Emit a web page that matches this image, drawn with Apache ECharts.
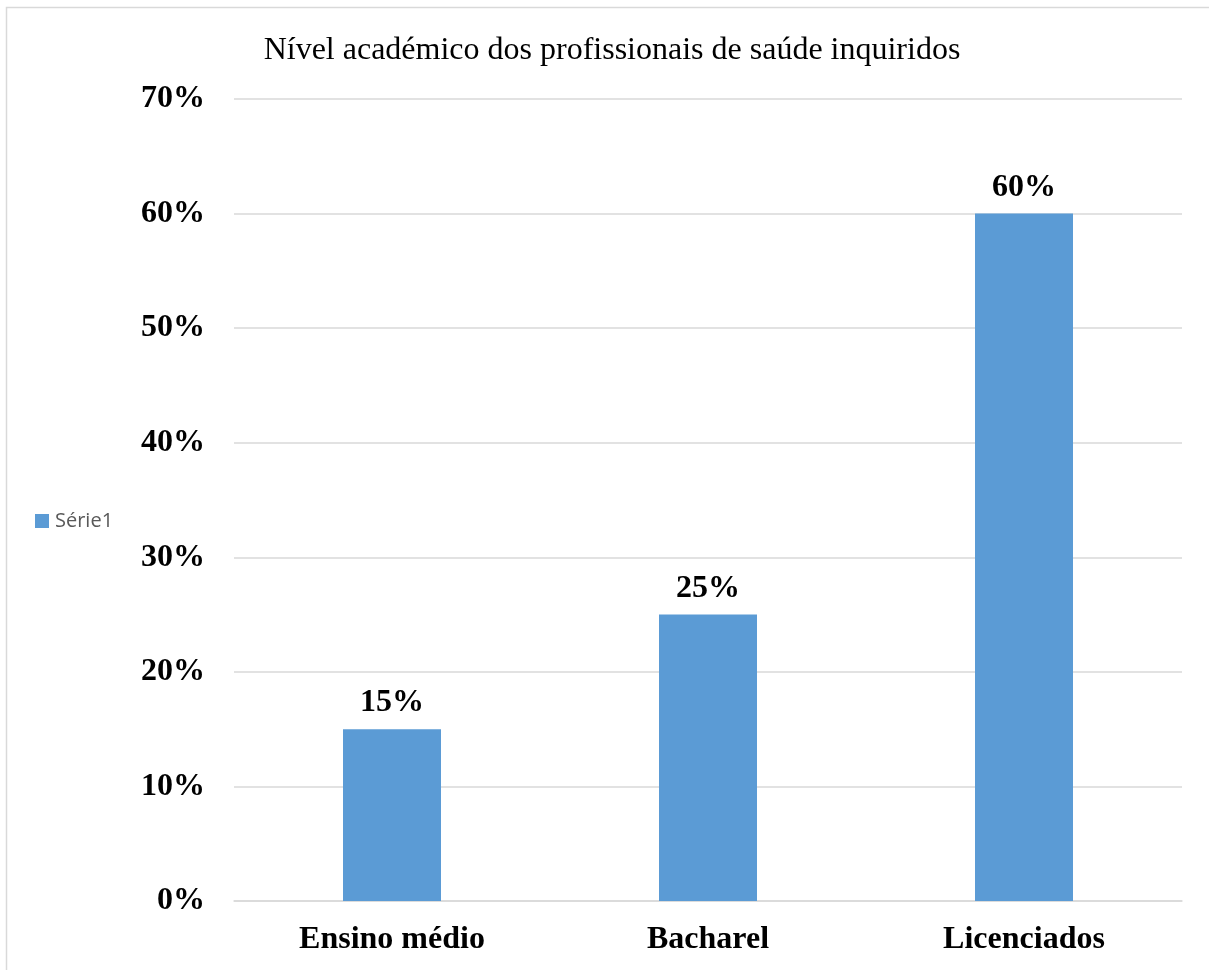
<!DOCTYPE html>
<html>
<head>
<meta charset="utf-8">
<script src="https://cdn.jsdelivr.net/npm/echarts@6/dist/echarts.min.js"></script>
<style>
  html, body { margin: 0; padding: 0; background: #fff; }
  #chart { width: 1209px; height: 970px; }
</style>
</head>
<body>
<div id="chart"></div>
<script>
// Academic level of surveyed health professionals
const categories = ['Ensino médio', 'Bacharel', 'Licenciados'];
const values = [15, 25, 60];          // percent
const yTicks = [0, 10, 20, 30, 40, 50, 60, 70];
const seriesName = 'Série1';
const titleText = 'Nível académico dos profissionais de saúde inquiridos';

const serif = '"Liberation Serif", "Times New Roman", serif';
const barColor = '#5B9BD5';

const chart = echarts.init(document.getElementById('chart'));
chart.setOption({
  animation: false,
  title: {
    text: titleText,
    left: 607,
    textAlign: 'center',
    top: 30,
    textStyle: { fontFamily: serif, fontSize: 32, fontWeight: 'normal', color: '#000' }
  },
  legend: {
    data: [seriesName],
    orient: 'vertical',
    left: 30,
    top: 506,
    padding: 5,
    itemWidth: 14,
    itemHeight: 14,
    itemGap: 5,
    icon: 'rect',
    textStyle: { fontFamily: '"Open Sans", "Liberation Sans", sans-serif', fontSize: 20, color: '#595959', padding: [0, 0, 0, 1] }
  },
  grid: { left: 234, right: 27, top: 99, bottom: 69, containLabel: false },
  xAxis: {
    type: 'category',
    data: categories,
    axisLine: { lineStyle: { color: '#d9d9d9', width: 1.5 } },
    axisTick: { show: false },
    axisLabel: { fontFamily: serif, fontSize: 32, fontWeight: 'bold', color: '#000', margin: 23 }
  },
  yAxis: {
    type: 'value',
    min: yTicks[0],
    max: yTicks[yTicks.length - 1],
    interval: yTicks[1] - yTicks[0],
    axisLine: { show: false },
    axisTick: { show: false },
    splitLine: { lineStyle: { color: '#d9d9d9', width: 1.5 } },
    axisLabel: {
      fontFamily: serif, fontSize: 32, fontWeight: 'bold', color: '#000', margin: 29,
      formatter: v => v + '%'
    }
  },
  series: [{
    name: seriesName,
    type: 'bar',
    data: values,
    barWidth: 98,
    itemStyle: { color: barColor },
    label: {
      show: true,
      position: 'top',
      distance: 10,
      fontFamily: serif, fontSize: 32, fontWeight: 'bold', color: '#000',
      formatter: p => p.value + '%'
    }
  }],
  graphic: [{
    type: 'polyline',
    shape: { points: [[6.5, 970], [6.5, 7.5], [1209, 7.5]] },
    style: { stroke: '#d9d9d9', lineWidth: 1.5, fill: null },
    silent: true
  }]
});
</script>
</body>
</html>
